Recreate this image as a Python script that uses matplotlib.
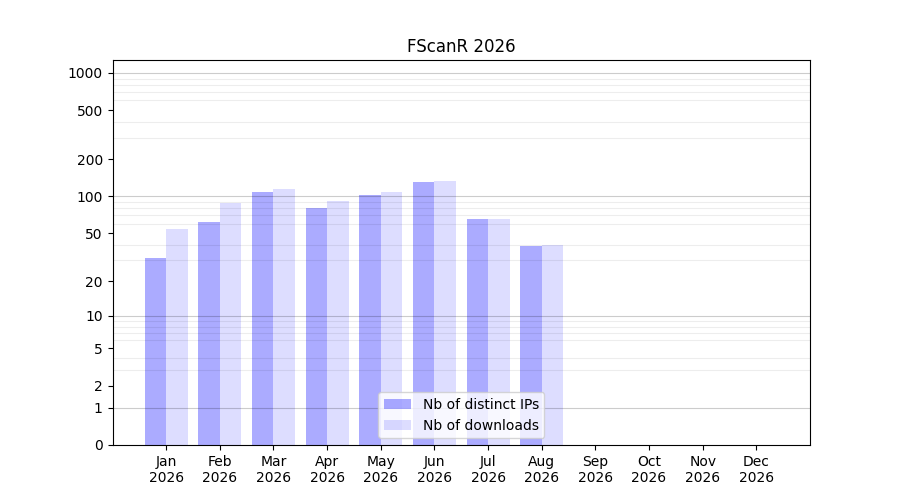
import matplotlib
matplotlib.use("Agg")
import matplotlib.pyplot as plt
import numpy as np

months = ["Jan", "Feb", "Mar", "Apr", "May", "Jun",
          "Jul", "Aug", "Sep", "Oct", "Nov", "Dec"]
year = 2026
ips = [31, 62, 109, 81, 103, 132, 66, 39]
downloads = [54, 89, 114, 91, 109, 134, 66, 40]
yticks = [0, 1, 2, 5, 10, 20, 50, 100, 200, 500, 1000]
decades = [1, 10, 100, 1000]


def fwd(x):
    return np.log10(np.asarray(x, dtype=float) + 1)


def inv(y):
    return 10 ** np.asarray(y, dtype=float) - 1


fig, ax = plt.subplots(figsize=(9, 5), dpi=100)
ax.set_yscale("function", functions=(fwd, inv))

x = np.arange(len(ips))
ax.bar(x - 0.2, ips, width=0.4, color="blue", alpha=0.33,
       label="Nb of distinct IPs", zorder=1)
ax.bar(x + 0.2, downloads, width=0.4, color="blue", alpha=0.133,
       label="Nb of downloads", zorder=1)

# light lines at 2..9 of each decade, darker ones at the decades
minor = [m * d for d in decades[:-1] for m in range(2, 10)]
ax.set_yticks(minor, minor=True)
ax.tick_params(axis="y", which="minor", length=0)
ax.grid(which="minor", axis="y", color="black", alpha=0.07, zorder=2)
for d in decades:
    ax.axhline(d, color="black", alpha=0.2, lw=0.8, zorder=2)

ax.set_yticks(yticks)
ax.set_yticklabels([str(t) for t in yticks])
ax.set_ylim(0, 1270)

ax.set_xticks(np.arange(len(months)))
ax.set_xticklabels([f"{m}\n{year}" for m in months])
ax.set_xlim(-1, 12)

ax.set_title(f"FScanR {year}")
ax.legend(loc="lower center")

plt.savefig("out.png")
